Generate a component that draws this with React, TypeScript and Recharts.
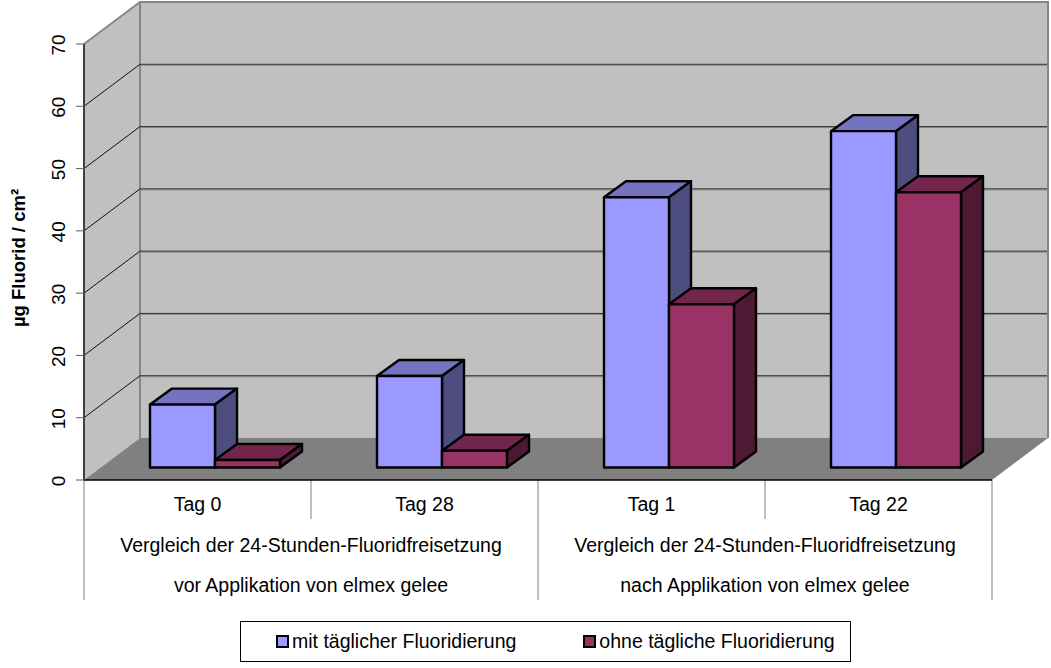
import { Bar, BarChart, CartesianGrid, Legend, XAxis, YAxis } from 'recharts';

const CATEGORIES = ['Tag 0', 'Tag 28', 'Tag 1', 'Tag 22'];
const WITH_FLUORIDE = [10.1, 14.7, 43.4, 54];
const WITHOUT_FLUORIDE = [1.2, 2.7, 26.2, 44.2];
const VALUE_TICKS = [0, 10, 20, 30, 40, 50, 60, 70];
const GROUP_LABELS = [
  ['Vergleich der 24-Stunden-Fluoridfreisetzung', 'vor Applikation von elmex gelee'],
  ['Vergleich der 24-Stunden-Fluoridfreisetzung', 'nach Applikation von elmex gelee'],
];

const rows = CATEGORIES.map((tag, i) => ({
  tag,
  mit: WITH_FLUORIDE[i],
  ohne: WITHOUT_FLUORIDE[i],
}));

const WIDTH = 1051;
const HEIGHT = 668;
const MARGIN = { top: 44, right: 59, bottom: 0, left: 0 };
const LEFT = 84;
const RIGHT = 992;
const FLOOR = 480;
const FONT = '"Liberation Sans", Arial, sans-serif';

// depth of the fake 3D box, and where the bars stand inside it
const BOX_DX = 56;
const BOX_DY = 42;
const BAR_DX = 22;
const BAR_DY = 16;
const INSET_X = 17;
const INSET_Y = 12.5;

const WALL = '#c0c0c0';
const WALL_EDGE = '#868686';
const GROUND = '#808080';

// sits in its own svg under the chart so the grid lines stay on top
function Walls() {
  return (
    <svg width={WIDTH} height={HEIGHT} style={{ position: 'absolute', left: 0, top: 0 }}>
      <polygon
        points={`${LEFT},${FLOOR} ${LEFT},44 ${LEFT + BOX_DX},${44 - BOX_DY} ${LEFT + BOX_DX},${FLOOR - BOX_DY}`}
        fill={WALL}
      />
      <rect x={LEFT + BOX_DX} y={44 - BOX_DY} width={RIGHT - LEFT} height={FLOOR - 44} fill={WALL} />
      <polygon
        points={`${LEFT},${FLOOR} ${LEFT + BOX_DX},${FLOOR - BOX_DY} ${RIGHT + BOX_DX},${FLOOR - BOX_DY} ${RIGHT},${FLOOR}`}
        fill={GROUND}
      />
      <polyline
        points={`${LEFT},44 ${LEFT + BOX_DX},${44 - BOX_DY} ${RIGHT + BOX_DX},${44 - BOX_DY} ${RIGHT + BOX_DX},${FLOOR - BOX_DY}`}
        fill="none"
        stroke={WALL_EDGE}
        strokeWidth={2}
      />
      <line
        x1={LEFT + BOX_DX}
        y1={44 - BOX_DY}
        x2={LEFT + BOX_DX}
        y2={FLOOR - BOX_DY}
        stroke={WALL_EDGE}
        strokeWidth={2}
      />
    </svg>
  );
}

// one grid line runs along the side wall, then across the back wall
function GridLine({ y1 }: any) {
  if (y1 <= MARGIN.top + 1 || y1 >= FLOOR - 1) return <g />;
  return (
    <g fill="none">
      <polyline
        points={`${LEFT},${y1} ${LEFT + BOX_DX},${y1 - BOX_DY}`}
        stroke="#111111"
        strokeWidth={1}
      />
      <line
        x1={LEFT + BOX_DX}
        y1={y1 - BOX_DY + 1}
        x2={RIGHT + BOX_DX - 1}
        y2={y1 - BOX_DY + 1}
        stroke="#8a8a8a"
        strokeWidth={1}
      />
      <line
        x1={LEFT + BOX_DX}
        y1={y1 - BOX_DY}
        x2={RIGHT + BOX_DX - 1}
        y2={y1 - BOX_DY}
        stroke="#333333"
        strokeWidth={1}
      />
    </g>
  );
}

function Block({ x, y, width, height, front, top, side }: any) {
  const l = x + INSET_X;
  const r = l + width;
  const t = y - INSET_Y;
  const b = t + height;
  return (
    <g stroke="#000000" strokeWidth={2.4} strokeLinejoin="round">
      <polygon
        points={`${l},${t} ${l + BAR_DX},${t - BAR_DY} ${r + BAR_DX},${t - BAR_DY} ${r},${t}`}
        fill={top}
      />
      <polygon
        points={`${r},${t} ${r + BAR_DX},${t - BAR_DY} ${r + BAR_DX},${b - BAR_DY} ${r},${b}`}
        fill={side}
      />
      <rect x={l} y={t} width={width} height={height} fill={front} />
    </g>
  );
}

function TagTick({ x, y, payload }: any) {
  return (
    <text x={x} y={y} dy={23} textAnchor="middle" fontFamily={FONT} fontSize={19.5} fill="#000000">
      {payload.value}
    </text>
  );
}

function ValueTick({ x, y, payload }: any) {
  const cy = y + 1;
  return (
    <text
      x={x}
      y={cy}
      transform={`rotate(-90 ${x} ${cy})`}
      dy={-9}
      textAnchor="middle"
      fontFamily={FONT}
      fontSize={19}
      fill="#000000"
    >
      {payload.value}
    </text>
  );
}

function AxisFrame() {
  const band = (RIGHT - LEFT) / CATEGORIES.length;
  return (
    <g>
      <g stroke="#808080" strokeWidth={1}>
        <line x1={LEFT} y1={FLOOR} x2={LEFT} y2={600} />
        <line x1={LEFT + 2 * band} y1={FLOOR} x2={LEFT + 2 * band} y2={600} />
        <line x1={RIGHT} y1={FLOOR} x2={RIGHT} y2={600} />
        <line x1={LEFT + band} y1={FLOOR} x2={LEFT + band} y2={519} />
        <line x1={LEFT + 3 * band} y1={FLOOR} x2={LEFT + 3 * band} y2={519} />
      </g>
      {GROUP_LABELS.map((lines, g) => (
        <g key={g} fontFamily={FONT} fontSize={19.5} textAnchor="middle" fill="#000000">
          <text x={LEFT + band * (2 * g + 1)} y={552}>
            {lines[0]}
          </text>
          <text x={LEFT + band * (2 * g + 1)} y={592}>
            {lines[1]}
          </text>
        </g>
      ))}
      <text
        x={25}
        y={258}
        transform="rotate(-90 25 258)"
        textAnchor="middle"
        fontFamily={FONT}
        fontSize={18.5}
        fontWeight="bold"
        fill="#000000"
      >
        µg Fluorid / cm²
      </text>
    </g>
  );
}

function LegendBox({ payload }: any) {
  return (
    <div
      style={{
        boxSizing: 'border-box',
        width: 611,
        height: 41,
        border: '1px solid #000000',
        display: 'flex',
        alignItems: 'center',
        fontFamily: FONT,
        fontSize: 19.5,
        color: '#000000',
      }}
    >
      {(payload ?? []).map((item: any, i: number) => (
        <span
          key={item.value}
          style={{ display: 'flex', alignItems: 'center', marginLeft: i === 0 ? 35 : 67 }}
        >
          <span
            style={{
              boxSizing: 'border-box',
              width: 13,
              height: 13,
              marginRight: 3,
              border: '2px solid #000000',
              background: item.color,
            }}
          />
          {item.value}
        </span>
      ))}
    </div>
  );
}

export default function App() {
  return (
    <div style={{ position: 'absolute', left: 0, top: 0, width: WIDTH, height: HEIGHT, background: '#ffffff' }}>
      <Walls />
      <div style={{ position: 'absolute', left: 0, top: 0 }}>
        <BarChart
          width={WIDTH}
          height={HEIGHT}
          data={rows}
          margin={MARGIN}
          barSize={65}
          barGap={0}
          barCategoryGap={48}
        >
          <CartesianGrid vertical={false} horizontal={<GridLine />} />
          <XAxis
            dataKey="tag"
            height={147}
            axisLine={{ stroke: '#000000', strokeWidth: 1.5 }}
            tickLine={false}
            tick={<TagTick />}
            interval={0}
          />
          <YAxis
            width={84}
            domain={[0, 70]}
            ticks={VALUE_TICKS}
            axisLine={{ stroke: '#404040', strokeWidth: 2 }}
            tickLine={{ stroke: '#606060' }}
            tickSize={8}
            tick={<ValueTick />}
            interval={0}
          />
          <Bar
            dataKey="mit"
            name="mit täglicher Fluoridierung"
            fill="#9999ff"
            isAnimationActive={false}
            shape={<Block front="#9999ff" top="#7373bf" side="#4d4d80" />}
          />
          <Bar
            dataKey="ohne"
            name="ohne tägliche Fluoridierung"
            fill="#993366"
            isAnimationActive={false}
            shape={<Block front="#993366" top="#73264d" side="#4d1933" />}
          />
          <AxisFrame />
          <Legend
            content={<LegendBox />}
            wrapperStyle={{ position: 'absolute', left: 240, top: 621, width: 611, bottom: 'auto' }}
          />
        </BarChart>
      </div>
    </div>
  );
}
